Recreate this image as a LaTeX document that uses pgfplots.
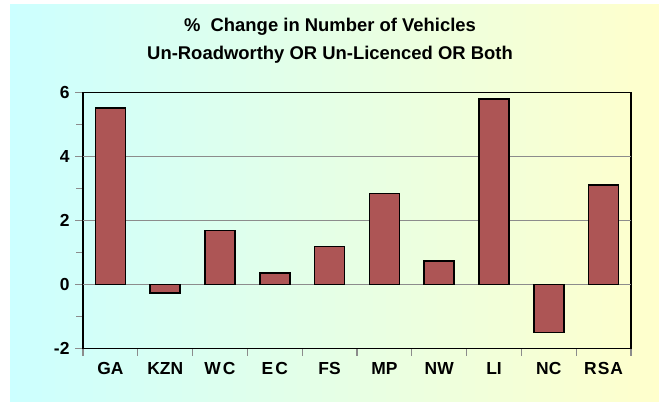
\documentclass[border=0pt]{standalone}
\usepackage{pgfplots}
\pgfplotsset{compat=1.18}
\usepackage{fontspec}
\setmainfont{Liberation Sans}
\definecolor{barred}{HTML}{AD5555}
\definecolor{bgleft}{HTML}{CCFFFF}
\definecolor{bgright}{HTML}{FFFFCC}
\definecolor{gridgray}{HTML}{8C8C8C}
\begin{document}
\begin{tikzpicture}[x=1bp,y=1bp]
\path[use as bounding box] (0,0) rectangle (659,401);
\fill[white] (0,0) rectangle (659,401);
\shade[left color=bgleft,right color=bgright] (10,0) rectangle (659,396);
\node[font=\bfseries\fontsize{18.5}{20}\selectfont] at (330,374) {\%\ \ Change in Number of Vehicles};
\node[font=\bfseries\fontsize{18.5}{20}\selectfont] at (330,346) {Un-Roadworthy OR Un-Licenced OR Both};
\begin{axis}[
  at={(83bp,52.5bp)}, anchor=south west,
  scale only axis, width=548bp, height=256bp,
  xmin=0.5, xmax=10.5, ymin=-2, ymax=6,
  xtick={1,...,10},
  xticklabels={GA,KZN,W\kern2pt C,E\kern2pt C,FS,MP,NW,LI,NC,R\kern1pt S\kern1pt A},
  minor xtick={0.5,1.5,...,10.5},
  ytick={-2,0,2,4,6},
  yticklabels={-2,0,2,4,6},
  minor ytick={-1,1,3,5},
  extra y ticks={0,2,4},
  extra y tick labels={},
  extra y tick style={grid=major, major tick length=0pt},
  x tick label style={font=\bfseries\fontsize{17.5}{18}\selectfont, yshift=-2bp},
  y tick label style={font=\bfseries\fontsize{17.5}{18}\selectfont, xshift=-2bp},
  xtick align=center,
  ytick align=outside,
  major tick length=8bp,
  minor tick length=7bp,
  major x tick style={draw=none},
  tick style={gridgray, line width=1.3bp},
  major grid style={gridgray, line width=1.6bp},
  axis line style={black, line width=1.8bp},
  tick pos=left,
  ybar, bar width=30bp,
]
\addplot[fill=barred, draw=black, line width=1.7bp] coordinates {
(1,5.51) (2,-0.27) (3,1.69) (4,0.35) (5,1.19) (6,2.84) (7,0.73) (8,5.80) (9,-1.50) (10,3.10)
};
\end{axis}
\end{tikzpicture}
\end{document}
